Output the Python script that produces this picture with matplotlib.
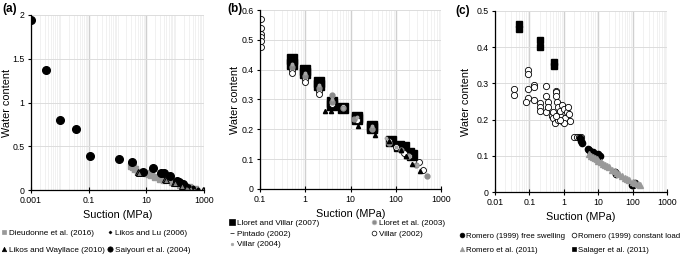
import matplotlib
matplotlib.use("Agg")
import matplotlib.pyplot as plt
from matplotlib.ticker import LogLocator, FixedLocator, NullFormatter
from matplotlib.lines import Line2D

plt.rcParams['font.family'] = ['Liberation Sans', 'DejaVu Sans']

# ---------------- panel (a) data ----------------
dieu_x = [3, 3.5, 4, 5, 10, 12, 15, 20, 30, 40, 80, 100, 150, 200, 300, 500]
dieu_y = [0.28, 0.26, 0.24, 0.21, 0.19, 0.18, 0.17, 0.15, 0.13, 0.12, 0.09, 0.08, 0.06, 0.05, 0.03, 0.01]
lu_x = [150, 200, 250, 300, 400, 600]
lu_y = [0.09, 0.075, 0.06, 0.05, 0.03, 0.015]
wayl_x = [5, 5.5, 45, 50, 90, 100, 170, 260, 450, 950]
wayl_y = [0.21, 0.20, 0.13, 0.12, 0.08, 0.075, 0.05, 0.035, 0.012, 0.003]
saiy_x = [0.001, 0.0034, 0.0105, 0.035, 0.11, 1.1, 3.2, 7.8, 17, 32, 42, 66, 120, 135, 180]
saiy_y = [1.94, 1.37, 0.80, 0.70, 0.39, 0.35, 0.32, 0.21, 0.25, 0.20, 0.19, 0.16, 0.10, 0.09, 0.07]

# ---------------- panel (b) data ----------------
lv07_x = [0.5, 0.5, 1, 1, 2, 2, 4, 4, 7, 14, 14, 30, 30, 80, 120, 150, 200, 230]
lv07_y = [0.435, 0.42, 0.40, 0.39, 0.36, 0.35, 0.29, 0.28, 0.27, 0.24, 0.235, 0.21, 0.205, 0.16, 0.145, 0.14, 0.12, 0.115]
ll03_x = [0.5, 1, 2, 4, 4, 7, 12, 30, 70, 130, 190, 280, 500]
ll03_y = [0.41, 0.38, 0.34, 0.315, 0.29, 0.27, 0.235, 0.20, 0.155, 0.13, 0.11, 0.08, 0.045]
pint_x = [2.8, 3.8, 15, 35, 70, 130, 170, 230, 350]
pint_y = [0.26, 0.26, 0.21, 0.18, 0.16, 0.13, 0.11, 0.085, 0.06]
v02_x = [0.105, 0.105, 0.105, 0.105, 0.105, 0.105, 0.5, 0.5, 1, 1, 2, 2, 4, 7, 14, 30, 70, 100, 150, 200, 330, 400]
v02_y = [0.57, 0.54, 0.52, 0.51, 0.495, 0.475, 0.40, 0.39, 0.37, 0.36, 0.33, 0.32, 0.285, 0.275, 0.23, 0.20, 0.16, 0.14, 0.12, 0.11, 0.09, 0.065]
v04_x = [0.5, 1, 2, 4, 7, 14, 30, 60, 100, 200, 300]
v04_y = [0.42, 0.39, 0.35, 0.30, 0.27, 0.24, 0.21, 0.17, 0.14, 0.11, 0.08]

# ---------------- panel (c) data ----------------
rfree_x = [3, 3.2, 3.3, 5, 5.5, 6, 7, 8, 10, 11, 30, 32, 95, 100, 120]
rfree_y = [0.15, 0.14, 0.135, 0.12, 0.115, 0.11, 0.11, 0.105, 0.105, 0.10, 0.055, 0.05, 0.02, 0.018, 0.025]
rload_x = [0.035, 0.035, 0.09, 0.09, 0.09, 0.09, 0.08, 0.14, 0.14, 0.14, 0.2, 0.2, 0.2, 0.3, 0.3,
           0.3, 0.35, 0.35, 0.45, 0.5, 0.5, 0.55, 0.6, 0.6, 0.6, 0.65, 0.7, 0.7, 0.8, 0.8,
           0.9, 0.9, 1.0, 1.1, 1.2, 1.3, 1.4, 1.5, 1.0, 0.8, 0.6, 2.0, 2.4, 2.8, 3.2]
rload_y = [0.285, 0.268, 0.337, 0.326, 0.284, 0.259, 0.25, 0.296, 0.29, 0.254, 0.246, 0.235, 0.225, 0.293, 0.265,
           0.22, 0.248, 0.235, 0.21, 0.205, 0.22, 0.19, 0.28, 0.275, 0.265, 0.25, 0.235, 0.20, 0.21, 0.225,
           0.24, 0.195, 0.23, 0.205, 0.22, 0.235, 0.215, 0.195, 0.19, 0.20, 0.21, 0.153, 0.153, 0.153, 0.153]
r11_x = [5.5, 6, 7, 8, 9, 10, 12, 14, 16, 18, 20, 25, 30, 35, 40, 50, 60, 70, 80, 100, 120, 140, 160]
r11_y = [0.105, 0.10, 0.097, 0.093, 0.09, 0.087, 0.082, 0.078, 0.074, 0.071, 0.068, 0.062, 0.057, 0.053,
         0.05, 0.045, 0.04, 0.037, 0.034, 0.029, 0.025, 0.022, 0.02]
sal_x = [0.05, 0.05, 0.2, 0.2, 0.51, 0.51]
sal_y = [0.464, 0.449, 0.42, 0.40, 0.36, 0.349]

fig = plt.figure(figsize=(6.85, 2.57), dpi=100)
W, H = 685, 257


def make_ax(l, r, t, b):
    return fig.add_axes([l / W, 1 - b / H, (r - l) / W, (b - t) / H])


def style(ax, xlim, xmajor, xlabels, ylim, yticks, ylabels, ylab_x):
    ax.set_xscale('log')
    ax.set_xlim(*xlim)
    ax.set_ylim(*ylim)
    ax.xaxis.set_major_locator(FixedLocator(xmajor))
    ax.set_xticklabels(xlabels)
    ax.xaxis.set_minor_locator(LogLocator(base=10, subs=range(1, 10), numticks=20))
    ax.xaxis.set_minor_formatter(NullFormatter())
    ax.set_yticks(yticks)
    ax.set_yticklabels(ylabels)
    ax.grid(True, which='minor', axis='x', color='#efefef', lw=0.6)
    ax.grid(True, which='major', axis='x', color='#d0d0d0', lw=1.0)
    ax.grid(True, which='major', axis='y', color='#dcdcdc', lw=0.7)
    ax.set_axisbelow(True)
    for s in ['top', 'right']:
        ax.spines[s].set_visible(False)
    for s in ['left', 'bottom']:
        ax.spines[s].set_linewidth(0.9)
    ax.tick_params(axis='x', which='major', direction='inout', length=4, width=0.8, labelsize=6.3, pad=2)
    ax.tick_params(axis='x', which='minor', length=0)
    ax.tick_params(axis='y', direction='out', length=2.5, width=0.8, labelsize=6.3, pad=2)
    ax.set_xlabel('Suction (MPa)', fontsize=7.8, labelpad=4)
    ax.set_ylabel('Water content', fontsize=7.8)
    ax.yaxis.set_label_coords(ylab_x, 0.5)


def column(handles, x, y, spacing, size=5.9):
    fig.legend(handles=handles, loc='upper left', bbox_to_anchor=(x / W, 1 - y / H),
               bbox_transform=fig.transFigure, frameon=False, fontsize=size,
               handlelength=0.5, handletextpad=0.3, labelspacing=spacing,
               borderpad=0, borderaxespad=0)


def h(marker, fc, ec, ms, label):
    return Line2D([], [], ls='none', marker=marker, mfc=fc, mec=ec, ms=ms, mew=0.5, label=label)


# ---------------- (a) ----------------
ax = make_ax(31, 204, 15, 190)
ax.plot(dieu_x, dieu_y, ls='none', marker='s', mfc='#999999', mec='#999999', ms=4)
ax.plot(saiy_x, saiy_y, ls='none', marker='o', mfc='black', mec='black', ms=5.5)
ax.plot(wayl_x, wayl_y, ls='none', marker='^', mfc='#808080', mec='black', ms=5, mew=0.7)
ax.plot(lu_x, lu_y, ls='none', marker='D', mfc='black', mec='black', ms=1.6)
style(ax, (0.001, 1000), [0.001, 0.1, 10, 1000], ['0.001', '0.1', '10', '1000'],
      (0, 2), [0, 0.5, 1, 1.5, 2], ['0', '0.5', '1', '1.5', '2'], -0.11)
column([h('s', '#999999', '#999999', 3.2, 'Dieudonne et al. (2016)'),
        h('^', 'black', 'black', 3.2, 'Likos and Wayllace (2010)')], 2, 229, 1.2)
column([h('D', 'black', 'black', 1.5, 'Likos and Lu (2006)'),
        h('o', 'black', 'black', 3.8, 'Saiyouri et al. (2004)')], 108, 229, 1.2)
fig.text(2 / W, 1 - 9 / H, '(a)', fontsize=8.5, fontweight='bold', va='center')

# ---------------- (b) ----------------
ax = make_ax(260, 441, 10, 189)
ax.plot(lv07_x, lv07_y, ls='none', marker='s', mfc='black', mec='black', ms=6.5)
ax.plot(v02_x, v02_y, ls='none', marker='o', mfc='white', mec='black', ms=4.3, mew=0.6)
ax.plot(ll03_x, ll03_y, ls='none', marker='o', mfc='#8c8c8c', mec='#8c8c8c', ms=3.5)
ax.plot(v04_x, v04_y, ls='none', marker='o', mfc='#a6a6a6', mec='#a6a6a6', ms=1.8)
ax.plot(pint_x, pint_y, ls='none', marker='^', mfc='black', mec='black', ms=3)
style(ax, (0.1, 1000), [0.1, 1, 10, 100, 1000], ['0.1', '1', '10', '100', '1000'],
      (0, 0.6), [0, 0.1, 0.2, 0.3, 0.4, 0.5, 0.6], ['0', '0.1', '0.2', '0.3', '0.4', '0.5', '0.6'], -0.11)
column([h('s', 'black', 'black', 3.8, 'Lloret and Villar (2007)'),
        h('_', 'black', 'black', 2.5, 'Pintado (2002)'),
        h('o', '#a6a6a6', '#a6a6a6', 1.8, 'Villar (2004)')], 230, 219, 0.38)
column([h('o', '#8c8c8c', '#bbbbbb', 3.4, 'Lloret et al. (2003)'),
        h('o', 'white', 'black', 3.4, 'Villar (2002)')], 372, 219, 0.38)
fig.text(227 / W, 1 - 9 / H, '(b)', fontsize=8.5, fontweight='bold', va='center')

# ---------------- (c) ----------------
ax = make_ax(495, 667, 11, 192)
ax.plot(rload_x, rload_y, ls='none', marker='o', mfc='white', mec='black', ms=4.5, mew=0.6)
ax.plot(sal_x, sal_y, ls='none', marker='s', mfc='black', mec='black', ms=4.8)
ax.plot(rfree_x, rfree_y, ls='none', marker='o', mfc='black', mec='black', ms=4.5)
ax.plot(r11_x, r11_y, ls='none', marker='^', mfc='#999999', mec='#999999', ms=4.5)
style(ax, (0.01, 1000), [0.01, 0.1, 1, 10, 100, 1000], ['0.01', '0.1', '1', '10', '100', '1000'],
      (0, 0.5), [0, 0.1, 0.2, 0.3, 0.4, 0.5], ['0', '0.1', '0.2', '0.3', '0.4', '0.5'], -0.14)
column([h('o', 'black', 'black', 3.4, 'Romero (1999) free swelling'),
        h('^', '#999999', '#999999', 3.2, 'Romero et al. (2011)')], 460, 232, 0.85, 5.7)
column([h('o', 'white', 'black', 3.4, 'Romero (1999) constant load'),
        h('s', 'black', 'black', 3.4, 'Salager et al. (2011)')], 572, 232, 0.85, 5.7)
fig.text(455 / W, 1 - 11 / H, '(c)', fontsize=8.5, fontweight='bold', va='center')

fig.savefig('out.png', dpi=100)
